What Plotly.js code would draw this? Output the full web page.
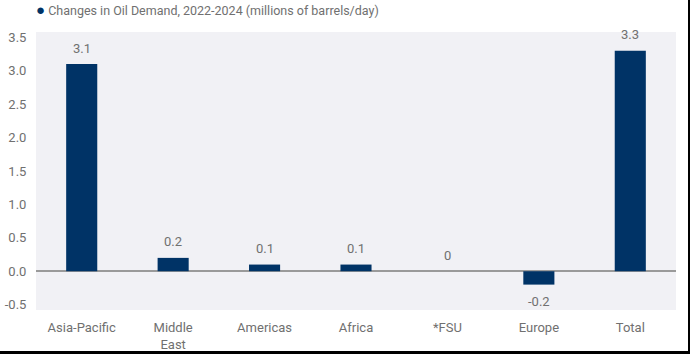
<!DOCTYPE html>
<html>
<head>
<meta charset="utf-8">
<script src="https://cdn.plot.ly/plotly-3.0.1.min.js"></script>
<style>
html,body{margin:0;padding:0;background:#fff;}
#chart{width:688px;height:351px;border-right:2px solid #000;border-bottom:3px solid #000;}
</style>
</head>
<body>
<div id="chart"></div>
<script>
var categories = ["Asia-Pacific", "Middle<br>East", "Americas", "Africa", "*FSU", "Europe", "Total"];
var demandChange = [3.1, 0.2, 0.1, 0.1, 0, -0.2, 3.3];
var valueLabels = ["3.1", "0.2", "0.1", "0.1", "0", "-0.2", "3.3"];
var yTicks = [-0.5, 0.0, 0.5, 1.0, 1.5, 2.0, 2.5, 3.0, 3.5];
var yTickText = ["-0.5", "0.0", "0.5", "1.0", "1.5", "2.0", "2.5", "3.0", "3.5"];
var seriesName = "Changes in Oil Demand, 2022-2024 (millions of barrels/day)";

var FONT = "Roboto, Arial, sans-serif";
var NAVY = "#003366";
var GREY = "#707070";

var trace = {
  type: "bar",
  x: categories,
  y: demandChange,
  marker: {color: NAVY, line: {width: 0}},
  width: 0.34,
  hoverinfo: "none",
  showlegend: false
};

var labelAnnotations = categories.map(function (c, i) {
  var v = demandChange[i];
  return {
    x: c, y: v, xref: "x", yref: "y",
    text: valueLabels[i],
    showarrow: false,
    xanchor: "center",
    yanchor: "middle",
    yshift: v < 0 ? -17 : 16,
    font: {family: FONT, size: 13, color: GREY}
  };
});

var layout = {
  width: 688,
  height: 351,
  margin: {l: 36, r: 12, t: 32, b: 41},
  paper_bgcolor: "#ffffff",
  plot_bgcolor: "#f1f1f5",
  font: {family: FONT, size: 13, color: GREY},
  xaxis: {
    type: "category",
    showgrid: false,
    zeroline: false,
    showline: false,
    ticks: "outside",
    ticklen: 5,
    tickcolor: "rgba(0,0,0,0)",
    tickfont: {family: FONT, size: 13, color: GREY}
  },
  yaxis: {
    range: [-0.58, 3.58],
    tickvals: yTicks,
    ticktext: yTickText,
    showgrid: false,
    zeroline: true,
    zerolinecolor: "#9a9a9a",
    zerolinewidth: 1.5,
    showline: false,
    ticks: "outside",
    ticklen: 6,
    tickcolor: "rgba(0,0,0,0)",
    tickfont: {family: FONT, size: 13, color: GREY}
  },
  annotations: labelAnnotations.concat([{
    xref: "paper", yref: "paper",
    x: -0.003, y: 1.079,
    xanchor: "left", yanchor: "middle",
    showarrow: false,
    text: '<span style="color:' + NAVY + ';font-size:15px">●</span> ' + seriesName,
    font: {family: FONT, size: 12.5, color: GREY}
  }])
};

Plotly.newPlot("chart", [trace], layout, {displayModeBar: false, staticPlot: true});
</script>
</body>
</html>
